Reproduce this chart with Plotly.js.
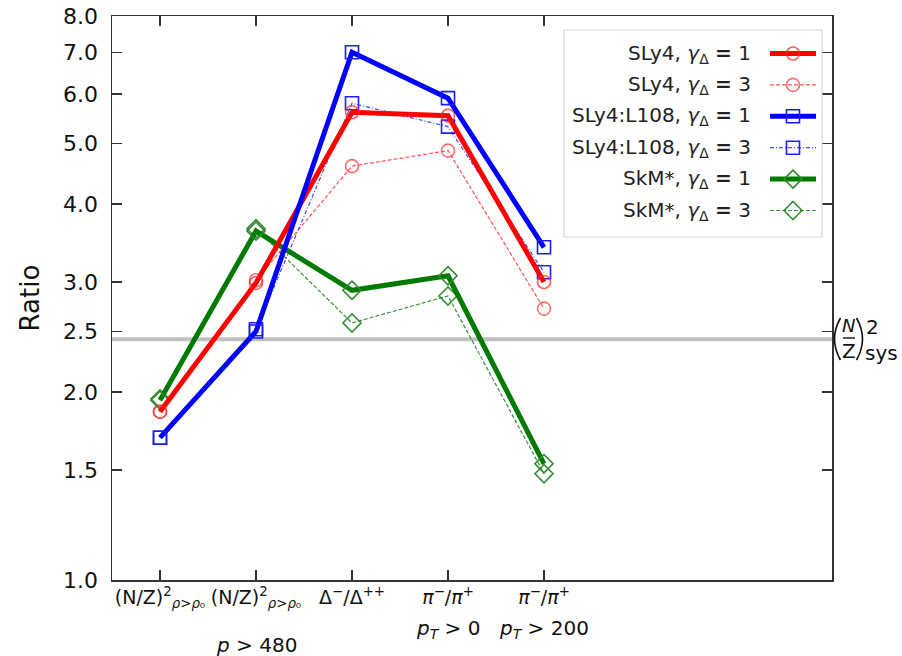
<!DOCTYPE html>
<html>
<head>
<meta charset="utf-8">
<script src="https://cdn.plot.ly/plotly-3.0.1.min.js"></script>
<style>html,body{margin:0;padding:0;background:#fff;}#chart{width:902px;height:656px;}</style>
</head>
<body>
<div id="chart"></div>
<script>
// ---- data ----
const categories = [
  "(N/Z)<sup>2</sup><sub><i>ρ</i>><i>ρ</i>₀</sub>",
  "(N/Z)<sup>2</sup><sub><i>ρ</i>><i>ρ</i>₀</sub>",
  "Δ<sup>−</sup>/Δ<sup>++</sup>",
  "<i>π</i><sup>−</sup>/<i>π</i><sup>+</sup>",
  "<i>π</i><sup>−</sup>/<i>π</i><sup>+</sup>"
];
const categoryCuts = ["", "<i>p</i> > 480", "", "<i>p<sub>T</sub></i> > 0", "<i>p<sub>T</sub></i> > 200"];
const sly4_g1 = [1.86, 2.99, 5.61, 5.54, 3.00];
const sly4_g3 = [1.86, 3.02, 4.60, 4.87, 2.72];
const l108_g1 = [1.69, 2.50, 7.00, 5.91, 3.41];
const l108_g3 = [1.69, 2.52, 5.80, 5.32, 3.11];
const skm_g1  = [1.94, 3.62, 2.91, 3.07, 1.535];
const skm_g3  = [1.95, 3.65, 2.58, 2.85, 1.48];
const sysRatio = 2.43;
const yTickVals = [1.0, 1.5, 2.0, 2.5, 3.0, 4.0, 5.0, 6.0, 7.0, 8.0];
const yTickText = ["1.0", "1.5", "2.0", "2.5", "3.0", "4.0", "5.0", "6.0", "7.0", "8.0"];
const legendNames = [
  "SLy4, <i>γ</i><sub>Δ</sub> <b>=</b> 1",
  "SLy4, <i>γ</i><sub>Δ</sub> <b>=</b> 3",
  "SLy4:L108, <i>γ</i><sub>Δ</sub> <b>=</b> 1",
  "SLy4:L108, <i>γ</i><sub>Δ</sub> <b>=</b> 3",
  "SkM*, <i>γ</i><sub>Δ</sub> <b>=</b> 1",
  "SkM*, <i>γ</i><sub>Δ</sub> <b>=</b> 3"
];

const xRange = [-0.5, 7.0];
const xIdx = categories.map((_, i) => i);

const styles = [
  {color: "#ff0000", mcolor: "rgba(255,40,40,0.75)", width: 5, dash: "solid", symbol: "circle-open", size: 13},
  {color: "rgba(255,40,40,0.8)", mcolor: "rgba(255,60,60,0.75)", width: 1.2, dash: "4px,2px", symbol: "circle-open", size: 13},
  {color: "#0000ff", mcolor: "#1a1aff", width: 5, dash: "solid", symbol: "square-open", size: 13},
  {color: "rgba(40,40,255,0.85)", mcolor: "#2020ff", width: 1.2, dash: "4px,2px,1px,2px", symbol: "square-open", size: 13},
  {color: "#007a00", mcolor: "#2f8a2f", width: 5, dash: "solid", symbol: "diamond-open", size: 14},
  {color: "rgba(30,120,30,0.85)", mcolor: "#3a8f3a", width: 1.2, dash: "4px,2px", symbol: "diamond-open", size: 14}
];
const series = [sly4_g1, sly4_g3, l108_g1, l108_g3, skm_g1, skm_g3];
const drawOrder = [5, 3, 1, 4, 0, 2];

const traces = [{
  x: xRange, y: [sysRatio, sysRatio], mode: "lines",
  line: {color: "#c0c0c0", width: 4}, hoverinfo: "skip", showlegend: false
}];
drawOrder.forEach(i => {
  const s = styles[i];
  traces.push({
    x: xIdx, y: series[i], mode: "lines+markers", showlegend: false,
    line: {color: s.color, width: s.width, dash: s.dash},
    marker: {symbol: s.symbol, size: s.size, color: s.mcolor, line: {width: 1.6, color: s.mcolor}},
    name: legendNames[i]
  });
});

// ---- manual legend (text left, sample right) ----
const pw = 720, ph = 564;           // plot area px
const rowY0 = 53.5, rowStep = 31.4; // px from top of figure
function py(p) { return (580 - p) / ph; }
function px(p) { return (p - 112) / pw; }
const shapes = [{
  type: "rect", xref: "paper", yref: "paper",
  x0: px(564), x1: px(822), y0: py(237), y1: py(30),
  line: {color: "#d8d8d8", width: 1.2}, fillcolor: "#ffffff", layer: "above"
}];
const annotations = [];
legendNames.forEach((name, i) => {
  const s = styles[i];
  const yy = py(rowY0 + i * rowStep);
  annotations.push({
    xref: "paper", yref: "paper", x: px(753), y: yy, xanchor: "right", yanchor: "middle",
    text: name, showarrow: false, font: {family: "DejaVu Sans", size: 20, color: "#222"}
  });
  shapes.push({
    type: "line", xref: "paper", yref: "paper", x0: px(770), x1: px(816), y0: yy, y1: yy,
    line: {color: s.color, width: s.width, dash: s.dash}, layer: "above"
  });
  const half = s.symbol.startsWith("diamond") ? 9 : 6.5;
  let mk;
  if (s.symbol.startsWith("circle")) {
    mk = {type: "circle", x0: -half, x1: half, y0: -half, y1: half};
  } else if (s.symbol.startsWith("square")) {
    mk = {type: "rect", x0: -half, x1: half, y0: -half, y1: half};
  } else {
    mk = {type: "path", path: `M ${-half} 0 L 0 ${half} L ${half} 0 L 0 ${-half} Z`};
  }
  shapes.push(Object.assign(mk, {
    xref: "paper", yref: "paper", xsizemode: "pixel", ysizemode: "pixel",
    xanchor: px(793), yanchor: yy, line: {color: s.mcolor, width: 1.6}, layer: "above"
  }));
});

// ---- second lines of the category labels ----
categoryCuts.forEach((t, i) => {
  if (!t) return;
  annotations.push({
    xref: "x", yref: "paper", x: i, y: py(i === 1 ? 645 : 629), xanchor: "center", yanchor: "middle",
    text: t, showarrow: false, font: {family: "DejaVu Sans", size: 20, color: "#111"}
  });
});

// ---- (N/Z)^2_sys label at right ----
const labFont = {family: "DejaVu Sans", color: "#111"};
function lab(text, cx, cy, size, anchor) {
  annotations.push({xref: "paper", yref: "paper", x: px(cx), y: py(cy), xanchor: anchor || "center",
    yanchor: "middle", showarrow: false, text: text, borderpad: 0,
    font: Object.assign({size: size}, labFont)});
}
lab("<i>N</i>", 849, 325.5, 18);
lab("Z", 848.5, 351, 20);
lab("2", 872.5, 327.5, 20);
lab("sys", 864, 353, 20, "left");
shapes.push({type: "line", xref: "paper", yref: "paper", x0: px(843), x1: px(855), y0: py(338), y1: py(338),
  line: {color: "#111", width: 1.4}});
// thin parentheses
shapes.push({type: "path", xref: "paper", yref: "paper", xsizemode: "pixel", ysizemode: "pixel",
  xanchor: px(837.5), yanchor: py(339), path: "M 3 -21 Q -9 0 3 21", line: {color: "#111", width: 1.6}});
shapes.push({type: "path", xref: "paper", yref: "paper", xsizemode: "pixel", ysizemode: "pixel",
  xanchor: px(859.5), yanchor: py(339), path: "M -3 -21 Q 9 0 -3 21", line: {color: "#111", width: 1.6}});

const layout = {
  width: 902, height: 656,
  margin: {l: 112, r: 70, t: 16, b: 76},
  paper_bgcolor: "#ffffff", plot_bgcolor: "#ffffff",
  showlegend: false,
  font: {family: "DejaVu Sans", color: "#111"},
  xaxis: {
    range: xRange, tickvals: xIdx, ticktext: categories,
    showline: true, linecolor: "#333", linewidth: 1.5, mirror: "ticks",
    ticks: "inside", ticklen: 10, tickcolor: "#333", tickwidth: 1.3,
    showgrid: false, zeroline: false, tickangle: 0,
    tickfont: {family: "DejaVu Sans", size: 19, color: "#111"}
  },
  yaxis: {
    type: "log", range: [0, Math.log10(8)],
    tickvals: yTickVals, ticktext: yTickText,
    showline: true, linecolor: "#333", linewidth: 1.5, mirror: "ticks",
    ticks: "inside", ticklen: 10, tickcolor: "#333", tickwidth: 1.3,
    showgrid: false, zeroline: false, ticklabelstandoff: 8,
    tickfont: {family: "DejaVu Sans", size: 22, color: "#111"},
    title: {text: "Ratio", standoff: 16, font: {family: "DejaVu Sans", size: 26, color: "#111"}}
  },
  shapes: shapes,
  annotations: annotations
};

Plotly.newPlot("chart", traces, layout, {staticPlot: true, displayModeBar: false});
</script>
</body>
</html>
